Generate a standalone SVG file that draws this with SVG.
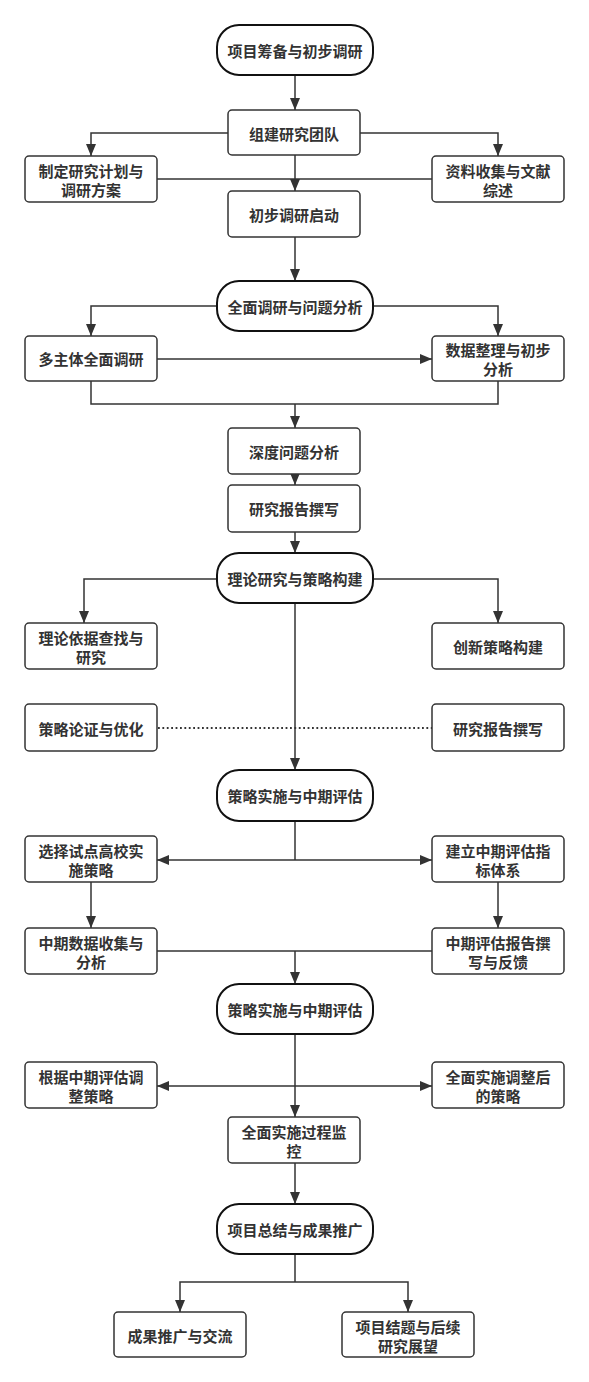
<svg xmlns="http://www.w3.org/2000/svg" width="589" height="1382" viewBox="0 0 589 1382">
<style>
.bg{fill:#ffffff}
.box{fill:#ffffff;stroke:#333333;stroke-width:1.5}
.term{fill:#ffffff;stroke:#111111;stroke-width:2}
.t{font-family:"Noto Sans CJK SC","Liberation Sans",sans-serif;font-size:15px;font-weight:bold;fill:#333333;text-anchor:middle;dominant-baseline:central}
.c{fill:none;stroke:#333333;stroke-width:1.5}
.a{marker-end:url(#arr)}
.dot{fill:none;stroke:#333333;stroke-width:1.8;stroke-dasharray:1.8 2.6}
</style>
<defs>
<marker id="arr" markerWidth="12" markerHeight="12" refX="12" refY="6" orient="auto" markerUnits="userSpaceOnUse">
<path d="M0,1 L12,6 L0,11 Z" fill="#333333"/>
</marker>
</defs>
<rect class="bg" x="0" y="0" width="589" height="1382"/>

<g id="connectors">
<path class="c a" d="M295,75 V110"/>
<path class="c a" d="M228,133 H91 V156"/>
<path class="c a" d="M360,133 H498 V156"/>
<path class="c a" d="M295,155 V191"/>
<path class="c" d="M157,179 H432"/>
<path class="c a" d="M295,237 V281"/>
<path class="c a" d="M217,306 H91 V336"/>
<path class="c a" d="M373,306 H498 V336"/>
<path class="c a" d="M157,359 H432"/>
<path class="c" d="M91,381 V404 H498 V381"/>
<path class="c a" d="M295,404 V428"/>
<path class="c a" d="M295,474 V485"/>
<path class="c a" d="M295,532 V553"/>
<path class="c a" d="M217,579 H84 V623"/>
<path class="c a" d="M373,579 H498 V623"/>
<path class="c a" d="M295,603 V770"/>
<path class="dot" d="M158,728 H432"/>
<path class="c" d="M295,821 V860"/>
<path class="c a" d="M295,860 H157"/>
<path class="c a" d="M295,860 H432"/>
<path class="c a" d="M91,882 V928"/>
<path class="c a" d="M498,882 V928"/>
<path class="c" d="M157,951 H432"/>
<path class="c a" d="M295,951 V984"/>
<path class="c a" d="M295,1034 V1117"/>
<path class="c a" d="M295,1086 H157"/>
<path class="c a" d="M295,1086 H432"/>
<path class="c a" d="M295,1163 V1204"/>
<path class="c" d="M295,1254 V1282"/>
<path class="c a" d="M295,1282 H180 V1312"/>
<path class="c a" d="M295,1282 H408 V1312"/>
</g>

<g id="n1"><rect class="term" x="217" y="25" width="156" height="50" rx="22"/><text class="t" x="295" y="50">项目筹备与初步调研</text></g>
<g id="n2"><rect class="box" x="228" y="110" width="132" height="45" rx="4"/><text class="t" x="294" y="133">组建研究团队</text></g>
<g id="n3"><rect class="box" x="25" y="156" width="132" height="46" rx="4"/><text class="t" x="91" y="170">制定研究计划与</text><text class="t" x="91" y="189">调研方案</text></g>
<g id="n4"><rect class="box" x="432" y="156" width="132" height="46" rx="4"/><text class="t" x="498" y="170">资料收集与文献</text><text class="t" x="498" y="189">综述</text></g>
<g id="n5"><rect class="box" x="228" y="191" width="132" height="46" rx="4"/><text class="t" x="294" y="214">初步调研启动</text></g>

<g id="n6"><rect class="term" x="217" y="281" width="156" height="50" rx="22"/><text class="t" x="295" y="306">全面调研与问题分析</text></g>
<g id="n7"><rect class="box" x="25" y="336" width="132" height="45" rx="4"/><text class="t" x="91" y="358">多主体全面调研</text></g>
<g id="n8"><rect class="box" x="432" y="336" width="132" height="45" rx="4"/><text class="t" x="498" y="349">数据整理与初步</text><text class="t" x="498" y="368">分析</text></g>
<g id="n9"><rect class="box" x="228" y="428" width="132" height="46" rx="4"/><text class="t" x="294" y="451">深度问题分析</text></g>
<g id="n10"><rect class="box" x="228" y="485" width="132" height="47" rx="4"/><text class="t" x="294" y="508">研究报告撰写</text></g>

<g id="n11"><rect class="term" x="217" y="553" width="156" height="50" rx="22"/><text class="t" x="295" y="578">理论研究与策略构建</text></g>
<g id="n12"><rect class="box" x="25" y="623" width="132" height="46" rx="4"/><text class="t" x="91" y="637">理论依据查找与</text><text class="t" x="91" y="656">研究</text></g>
<g id="n13"><rect class="box" x="432" y="623" width="132" height="46" rx="4"/><text class="t" x="498" y="646">创新策略构建</text></g>
<g id="n14"><rect class="box" x="25" y="704" width="132" height="47" rx="4"/><text class="t" x="91" y="728">策略论证与优化</text></g>
<g id="n15"><rect class="box" x="432" y="704" width="132" height="47" rx="4"/><text class="t" x="498" y="728">研究报告撰写</text></g>

<g id="n16"><rect class="term" x="217" y="770" width="156" height="51" rx="22"/><text class="t" x="295" y="795">策略实施与中期评估</text></g>
<g id="n17"><rect class="box" x="25" y="836" width="132" height="46" rx="4"/><text class="t" x="91" y="850">选择试点高校实</text><text class="t" x="91" y="869">施策略</text></g>
<g id="n18"><rect class="box" x="432" y="836" width="132" height="46" rx="4"/><text class="t" x="498" y="850">建立中期评估指</text><text class="t" x="498" y="869">标体系</text></g>
<g id="n19"><rect class="box" x="25" y="928" width="132" height="46" rx="4"/><text class="t" x="91" y="942">中期数据收集与</text><text class="t" x="91" y="961">分析</text></g>
<g id="n20"><rect class="box" x="432" y="928" width="132" height="46" rx="4"/><text class="t" x="498" y="942">中期评估报告撰</text><text class="t" x="498" y="961">写与反馈</text></g>

<g id="n21"><rect class="term" x="217" y="984" width="156" height="50" rx="22"/><text class="t" x="295" y="1009">策略实施与中期评估</text></g>
<g id="n22"><rect class="box" x="25" y="1062" width="132" height="46" rx="4"/><text class="t" x="91" y="1076">根据中期评估调</text><text class="t" x="91" y="1095">整策略</text></g>
<g id="n23"><rect class="box" x="432" y="1062" width="132" height="46" rx="4"/><text class="t" x="498" y="1076">全面实施调整后</text><text class="t" x="498" y="1095">的策略</text></g>
<g id="n24"><rect class="box" x="228" y="1117" width="132" height="46" rx="4"/><text class="t" x="294" y="1131">全面实施过程监</text><text class="t" x="294" y="1150">控</text></g>

<g id="n25"><rect class="term" x="217" y="1204" width="156" height="50" rx="22"/><text class="t" x="295" y="1229">项目总结与成果推广</text></g>
<g id="n26"><rect class="box" x="114" y="1312" width="132" height="45" rx="4"/><text class="t" x="180" y="1335">成果推广与交流</text></g>
<g id="n27"><rect class="box" x="342" y="1312" width="132" height="45" rx="4"/><text class="t" x="408" y="1326">项目结题与后续</text><text class="t" x="408" y="1345">研究展望</text></g>
</svg>
